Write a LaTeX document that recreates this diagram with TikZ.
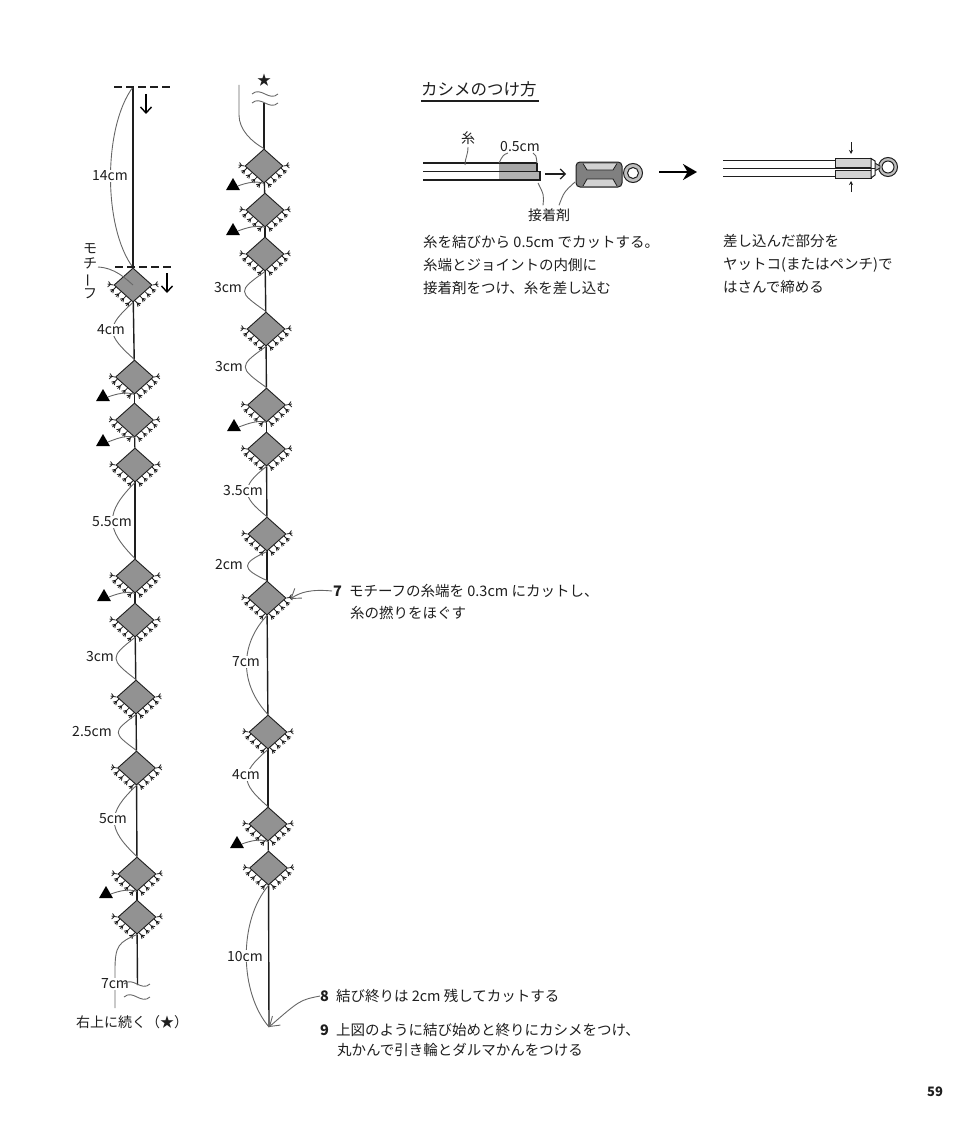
\documentclass[tikz,border=0pt]{standalone}
\usepackage{fontspec}
\usepackage{amssymb}
\setmainfont{Noto Sans CJK JP}
\usetikzlibrary{calc,arrows.meta,shapes.geometric}

\definecolor{ink}{HTML}{1E1E1E}
\definecolor{leadgray}{HTML}{666666}
\definecolor{motifgray}{HTML}{929292}

\tikzset{
  motif/.style={diamond, draw=ink, fill=motifgray, line width=.9pt, inner sep=0pt, minimum width=38pt, minimum height=34pt},
  fringeline/.style={draw=ink, line width=.8pt},
  cord/.style={draw=ink, line width=1.4pt},
  leader/.style={draw=leadgray, line width=.9pt},
  lab/.style={text=ink, inner sep=1pt, font=\fontsize{14}{16}\selectfont},
  dimlab/.style={lab, fill=white},
  para/.style={text=ink, inner sep=0pt, anchor=west, align=left, font=\fontsize{14.5}{22.6}\selectfont},
  tri/.style={regular polygon, regular polygon sides=3, fill=black, inner sep=0pt, minimum size=16pt},
  thread/.style={draw=ink, line width=1.2pt},
  downarrow/.style={draw=black, line width=1.4pt, -{Straight Barb[length=6pt,width=11pt]}},
  endmark/.style={draw=ink, line width=1.8pt, dash pattern=on 8pt off 4pt}
}

\newcommand{\fringe}[1]{%
  \foreach \pos in {.12,.38,.64,.9}{
    \draw[fringeline] ($(#1.west)!\pos!(#1.south)$) -- +(-5,5) +(-2.2,2.2) -- +(-6,3) +(-2.2,2.2) -- +(-3,6);
    \draw[fringeline] ($(#1.east)!\pos!(#1.south)$) -- +(5,5) +(2.2,2.2) -- +(6,3) +(2.2,2.2) -- +(3,6);
  }
  \draw[fringeline] (#1.west) -- +(-6,-1) +(-3,-.6) -- +(-5,-3.5) +(-3,-.6) -- +(-6,2);
  \draw[fringeline] (#1.east) -- +(6,-1) +(3,-.6) -- +(5,-3.5) +(3,-.6) -- +(6,2);
}
\newcommand{\wave}[1]{\draw[leader] (#1) .. controls +(9,-8) and +(-9,8) .. +(26,0);}

\begin{document}
\begin{tikzpicture}[x=1pt,y=-1pt]
  \useasboundingbox (0,0) rectangle (970,1145);

  % Nodos
  \foreach \n/\x/\y in {1/133/285,2/134.5/377,3/134.5/420,4/135/465,5/135/576,6/135/620,7/136/697,8/136.5/768,9/137/874,10/137/917}{
    \node[motif] (l\n) at (\x,\y) {};
    \fringe{l\n}
  }
  \foreach \n/\x/\y in {1/264/166,2/265/210,3/265/254,4/266/329,5/266.5/405,6/266.5/449,7/267/534,8/267/598,9/268/732,10/268/824,11/268.5/868}{
    \node[motif] (r\n) at (\x,\y) {};
    \fringe{r\n}
  }
  \coordinate (ltop) at (133,87);
  \coordinate (lend) at (137.5,985);
  \coordinate (rtop) at (264,103);
  \coordinate (rend) at (269,1027);

  % Hilo
  \draw[cord] (ltop) -- (l1);
  \foreach \a/\b in {1/2,2/3,3/4,4/5,5/6,6/7,7/8,8/9,9/10}{
    \draw[cord] (l\a) -- (l\b);
  }
  \draw[cord] (l10) -- (lend);
  \draw[cord] (rtop) -- (r1);
  \foreach \a/\b in {1/2,2/3,3/4,4/5,5/6,6/7,7/8,8/9,9/10,10/11}{
    \draw[cord] (r\a) -- (r\b);
  }
  \draw[cord] (r11) -- (rend);

  % Medidas
  \foreach \a/\b/\d/\h in {ltop/l1.north/30/40, l1.south/l2.north/28/25, l4.south/l5.north/30/30, l6.south/l7.north/26/20, l7.south/l8.north/24/18, l8.south/l9.north/30/28, r3.south/r4.north/28/20, r4.south/r5.north/28/20, r6.south/r7.north/26/20, r7.south/r8.north/26/12, r8.south/r9.north/28/30, r9.south/r10.north/28/24, r11.south/rend/30/35}{
    \draw[leader] (\a) .. controls +(-\d,\h) and +(-\d,-\h) .. (\b);
  }
  \foreach \x/\y/\txt in {110/176/14cm,111/330/4cm,112/522/5.5cm,100/657/3cm,92/732/2.5cm,113/819/5cm,228/288/3cm,229/367/3cm,243/491/3.5cm,229/565/2cm,246/662/7cm,246/775/4cm,245/956/10cm}{
    \node[dimlab] (d\x\y) at (\x,\y) {\txt};
  }
  \coordinate (rarc) at (239,85);
  \draw[leader] (rarc) -- (239,115) .. controls (239,130) and (252,142) .. (r1.north);
  \coordinate (lstub) at (115,1008);
  \draw[leader] (l10.south) .. controls +(-18,8) and +(0,-25) .. (115,970) -- (lstub);
  \node[dimlab] (d7) at (115,984) {7cm};
  \wave{124,984}
  \wave{124,997}
  \wave{252,94}
  \wave{252,103}

  % Triangulos
  \foreach \n/\x/\y/\j in {1/103/397/l2,2/103/442/l3,3/104/597/l5,4/106/894/l9,5/233/186/r1,6/233/231/r2,7/234/427/r5,8/237/844/r10}{
    \node[tri] (t\n) at (\x,\y) {};
    \draw[leader] (t\n.east) .. controls +(8,-3) and +(-8,-3) .. (\j.south);
  }

  % Marcas del inicio
  \coordinate (da) at (114,87);
  \coordinate (db) at (172,87);
  \coordinate (dc) at (115,267);
  \coordinate (dd) at (172,267);
  \draw[endmark] (da) -- (db);
  \draw[endmark] (dc) -- (dd);
  \coordinate (aa) at (146,94);
  \coordinate (ab) at (146,114);
  \coordinate (ac) at (167,273);
  \coordinate (ad) at (167,293);
  \draw[downarrow] (aa) -- (ab);
  \draw[downarrow] (ac) -- (ad);

  \node[lab, align=center, inner sep=0pt, font=\fontsize{14}{15}\selectfont] (motifname) at (90,271) {モ\\チ\\\rotatebox[origin=c]{90}{ー}\\フ};
  \coordinate (motiffrom) at (98,267);
  \draw[leader] (motiffrom) .. controls (115,268) and (125,278) .. (l1.center);

  \node[lab, anchor=west] (cont) at (75,1022) {右上に続く（★）};
  \node[lab] (star) at (264,80) {★};

  % Titulo
  \node[text=ink, inner sep=0pt, anchor=west, font=\fontsize{16.5}{18}\selectfont] (title) at (421,89) {カシメのつけ方};
  \coordinate (ula) at (421,101);
  \coordinate (ulb) at (539,101);
  \draw[draw=ink, line width=1.2pt] (ula) -- (ulb);

  % Hilo con cola
  \fill[gray!70] (499,163) rectangle (537,171);
  \fill[gray!60] (499,172) rectangle (540,180);
  \draw[thread] (423,163) -- (537,163);
  \draw[thread] (537,163) -- (537,171);
  \draw[thread] (423,171.5) -- (540,171.5) -- (540,180) -- (423,180);

  \node[lab] (thr) at (468,138) {糸};
  \node[lab] (half) at (520,147) {0.5cm};
  \draw[leader] (thr) ++(0,9) .. controls (468,155) and (465,158) .. (465,165);
  \draw[leader] (508,153) .. controls (503,155) .. (499,163);
  \draw[leader] (533,153) .. controls (536,155) .. (537,163);
  \coordinate (ra) at (545,174);
  \coordinate (rb) at (566,174);
  \draw[draw=ink, line width=1.2pt, -{Straight Barb[length=5pt,width=10pt]}] (ra) -- (rb);

  % Cierre abierto
  \draw[draw=ink, fill=gray!50, line width=1pt] (633,173) circle (9.5pt);
  \draw[draw=ink, fill=white, line width=1pt] (633,173) circle (5.5pt);
  \draw[draw=ink, fill=black!50, line width=1pt, rounded corners=4pt] (576,162) rectangle (622,187);
  \fill[gray!35] (583,163.5) -- (617,163.5) -- (613,170) -- (587,170) -- cycle;
  \fill[gray!35] (587,179) -- (613,179) -- (617,186) -- (583,186) -- cycle;
  \draw[draw=ink, line width=.8pt] (583,163.5) -- (587,170) -- (613,170) -- (617,163.5);
  \draw[draw=ink, line width=.8pt] (583,186) -- (587,179) -- (613,179) -- (617,186);
  \node[lab] (glue) at (549,215) {接着剤};
  \draw[leader] (glue.north) ++(-6,-2) .. controls (544,195) .. (538,183);
  \draw[leader] (glue.north) ++(10,-2) .. controls (564,192) .. (575,182);

  \coordinate (ba) at (659,172);
  \coordinate (bb) at (697,172);
  \draw[draw=black, line width=2pt, -{Stealth[length=14pt,width=16pt]}] (ba) -- (bb);

  % Cierre cerrado
  \draw[thread] (723,160.7) -- (835,160.7);
  \draw[thread] (723,168.3) -- (835,168.3);
  \draw[thread] (723,176.7) -- (835,176.7);
  \draw[draw=ink, fill=gray!50, line width=1pt] (888,167) circle (9.5pt);
  \draw[draw=ink, fill=white, line width=1pt] (888,167) circle (6pt);
  \draw[draw=ink, fill=gray!50, line width=.9pt] (873,162) -- (880,166) -- (880,168) -- (873,172) -- cycle;
  \draw[draw=ink, fill=gray!35, line width=1pt] (835,158.5) -- (871,158.5) -- (871,167.3) -- (835,167.3) -- cycle;
  \draw[draw=ink, fill=gray!35, line width=1pt] (835,170) -- (871,170) -- (871,178) -- (835,178) -- cycle;
  \draw[draw=ink, fill=white, line width=1pt] (871,158.5) -- (875,161) -- (875,175) -- (871,178) -- cycle;
  \draw[draw=ink, line width=1.4pt] (835,168.7) -- (875,168.7);
  \coordinate (pa) at (851,142);
  \coordinate (pb) at (851,154);
  \coordinate (pc) at (851,192);
  \coordinate (pd) at (851,181);
  \draw[draw=ink, line width=.7pt, -{Stealth[length=4pt,width=4pt]}] (pa) -- (pb);
  \draw[draw=ink, line width=.7pt, -{Stealth[length=4pt,width=4pt]}] (pc) -- (pd);

  % Textos
  \node[para] (tl) at (423,265) {糸を結びから 0.5cm でカットする。\\糸端とジョイントの内側に\\接着剤をつけ、糸を差し込む};
  \node[para] (tr) at (723,264) {差し込んだ部分を\\ヤットコ(またはペンチ)で\\はさんで締める};

  \node[para] (s7) at (333,602) {\textbf{7}\hspace{7pt}モチーフの糸端を 0.3cm にカットし、\\\hspace{17pt}糸の撚りをほぐす};
  \coordinate (s7from) at (332,591);
  \draw[leader, -{Straight Barb[length=9pt,width=12pt]}] (s7from) .. controls (312,589) and (300,592) .. ([xshift=4pt,yshift=-1pt]r8.east);
  \node[para] (s8) at (320,996) {\textbf{8}\hspace{7pt}結び終りは 2cm 残してカットする};
  \draw[leader, -{Straight Barb[length=9pt,width=12pt]}] (s8.west) .. controls (300,1000) .. (rend);
  \node[para, font=\fontsize{14.5}{20.5}\selectfont] (s9) at (320,1040) {\textbf{9}\hspace{7pt}上図のように結び始めと終りにカシメをつけ、\\\hspace{17pt}丸かんで引き輪とダルマかんをつける};

  \node[text=ink, inner sep=0pt, font=\bfseries\fontsize{13}{14}\selectfont] (pagenum) at (935,1092) {59};
\end{tikzpicture}
\end{document}
